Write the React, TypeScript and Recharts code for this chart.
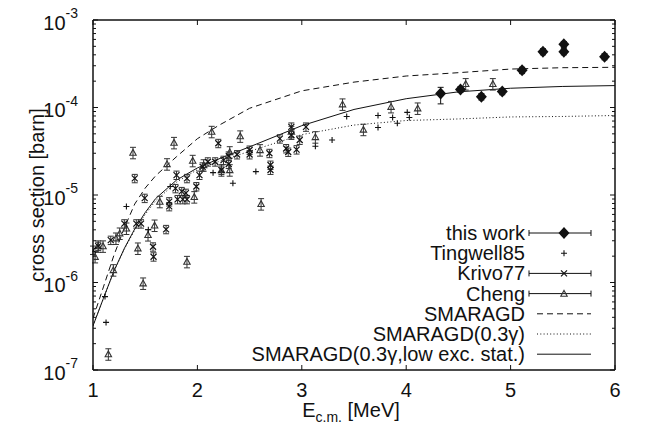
import { ComposedChart, Line, Scatter, XAxis, YAxis, ErrorBar, Legend, Label } from 'recharts'

const FONT = '"Liberation Sans", Arial, Helvetica, sans-serif'
const INK = '#111'

// this work (E in MeV, cross section in barn, asymmetric errors)
const THIS_WORK_E = [4.33, 4.52, 4.72, 4.92, 5.11, 5.31, 5.51, 5.51, 5.9]
const THIS_WORK_S = [1.45e-4, 1.61e-4, 1.33e-4, 1.52e-4, 2.66e-4, 4.35e-4, 5.27e-4, 4.35e-4, 3.81e-4]
const THIS_WORK_LO = [3.5e-5, 1.2e-5, 1.1e-5, 1.2e-5, 2.2e-5, 3.5e-5, 4e-5, 3.5e-5, 3e-5]
const THIS_WORK_HI = [2.5e-5, 1.2e-5, 1.1e-5, 1.2e-5, 2.2e-5, 3.5e-5, 4e-5, 3.5e-5, 3e-5]

const TINGWELL_E = [1.115, 1.125, 1.32, 1.53, 1.74, 2.15, 2.34, 2.56, 3.13, 3.29, 3.43, 3.73, 3.73, 3.87, 3.915, 4.01, 4.03]
const TINGWELL_S = [6.9e-7, 3.5e-7, 7.4e-6, 4.0e-6, 1.25e-5, 1.8e-5, 1.36e-5, 1.85e-5, 3.6e-5, 4.25e-5, 7.9e-5, 8.1e-5, 5.9e-5, 7.7e-5, 6.6e-5, 8.8e-5, 7.7e-5]

const KRIVO_E = [1.0, 1.05, 1.17, 1.3, 1.4, 1.415, 1.46, 1.495, 1.575, 1.58, 1.7, 1.73, 1.73, 1.79, 1.8, 1.81, 1.85, 1.86, 1.89, 1.9, 1.9, 1.99, 2.02, 2.05, 2.1, 2.17, 2.2, 2.23, 2.25, 2.3, 2.3, 2.38, 2.5, 2.5, 2.69, 2.7, 2.7, 2.79, 2.85, 2.87, 2.9, 2.9, 2.95, 2.98, 3.04]
const KRIVO_S = [2.35e-6, 2.6e-6, 3.05e-6, 4.7e-6, 1.55e-5, 4.7e-6, 4.7e-6, 9.2e-6, 2.56e-6, 1.97e-6, 4.05e-6, 8.4e-6, 7.4e-6, 1.19e-5, 1.69e-5, 8.9e-6, 1.1e-5, 8.9e-6, 1.05e-5, 1.55e-5, 8.9e-6, 1.25e-5, 1.69e-5, 2.1e-5, 2.4e-5, 2.4e-5, 3.9e-5, 1.93e-5, 2.5e-5, 2.26e-5, 2.8e-5, 2.9e-5, 3.27e-5, 2.9e-5, 3.0e-5, 2.2e-5, 1.93e-5, 4.4e-5, 3.4e-5, 3.1e-5, 6.0e-5, 4.85e-5, 3.3e-5, 4.25e-5, 6.0e-5]
const KRIVO_REL_ERR = 0.11

const CHENG_E = [1.02, 1.05, 1.096, 1.147, 1.195, 1.22, 1.256, 1.32, 1.383, 1.43, 1.48, 1.527, 1.59, 1.64, 1.709, 1.776, 1.9, 1.955, 1.97, 2.06, 2.137, 2.23, 2.31, 2.31, 2.41, 2.6, 2.61, 2.9, 3.13, 3.39, 3.59, 3.855, 4.11, 4.57, 4.83]
const CHENG_S = [1.97e-6, 2.6e-6, 2.6e-6, 1.52e-7, 1.39e-6, 3.2e-6, 3.65e-6, 4.16e-6, 3.05e-5, 2.46e-6, 9.8e-7, 3.5e-6, 4.5e-6, 8.4e-6, 2.26e-5, 3.96e-5, 1.73e-6, 2.47e-5, 9.5e-6, 2.2e-5, 5.3e-5, 1.93e-5, 3.1e-5, 1.93e-5, 4.7e-5, 3.27e-5, 7.9e-6, 5.3e-5, 4.6e-5, 1.09e-4, 5.6e-5, 1.02e-4, 9.8e-5, 1.86e-4, 1.86e-4]
const CHENG_REL_ERR = 0.15

// SMARAGD model curves
const CURVE_E = [1.0, 1.1, 1.2, 1.3, 1.4, 1.5, 1.6, 1.8, 2.0, 2.2, 2.5, 3.0, 3.5, 4.0, 4.5, 5.0, 5.5, 6.0]
const SMARAGD = [3.9e-7, 8.9e-7, 2.04e-6, 4.2e-6, 7.9e-6, 1.2e-5, 1.66e-5, 2.74e-5, 4.4e-5, 6.2e-5, 9.8e-5, 1.55e-4, 1.95e-4, 2.29e-4, 2.5e-4, 2.75e-4, 2.85e-4, 2.88e-4]
const SMARAGD_03G = [3.2e-7, 6.6e-7, 1.33e-6, 2.4e-6, 4.0e-6, 6.0e-6, 8.6e-6, 1.4e-5, 1.95e-5, 2.4e-5, 3.16e-5, 4.9e-5, 6.3e-5, 7.1e-5, 7.4e-5, 7.8e-5, 7.9e-5, 8.1e-5]
const SMARAGD_LOW = [3.2e-7, 6.6e-7, 1.35e-6, 2.45e-6, 4.1e-6, 6.3e-6, 9.1e-6, 1.48e-5, 2.04e-5, 2.57e-5, 3.55e-5, 6.2e-5, 9.5e-5, 1.26e-4, 1.51e-4, 1.66e-4, 1.74e-4, 1.78e-4]

const X_TICKS = [1, 2, 3, 4, 5, 6]
const DECADES = [1e-7, 1e-6, 1e-5, 1e-4, 1e-3]
const MANTISSAS = [1, 2, 3, 4, 5, 6, 7, 8, 9]
const Y_TICKS = DECADES.flatMap((d, i) => (i === DECADES.length - 1 ? [d] : MANTISSAS.map((m) => +(m * d).toPrecision(2))))

const LEGEND_LABELS = ['this work', 'Tingwell85', 'Krivo77', 'Cheng', 'SMARAGD', 'SMARAGD(0.3γ)', 'SMARAGD(0.3γ,low exc. stat.)']

const thisWork = THIS_WORK_E.map((x, i) => ({ x, y: THIS_WORK_S[i], err: [THIS_WORK_LO[i], THIS_WORK_HI[i]] }))
const tingwell = TINGWELL_E.map((x, i) => ({ x, y: TINGWELL_S[i] }))
const krivo = KRIVO_E.map((x, i) => ({ x, y: KRIVO_S[i], err: KRIVO_S[i] * KRIVO_REL_ERR }))
const cheng = CHENG_E.map((x, i) => ({ x, y: CHENG_S[i], err: CHENG_S[i] * CHENG_REL_ERR }))
const curve = (vals: number[]) => CURVE_E.map((x, i) => ({ x, y: vals[i] }))

const Diamond = ({ cx, cy }: any) => (
  <polygon points={`${cx - 5.5},${cy} ${cx},${cy - 6} ${cx + 5.5},${cy} ${cx},${cy + 6}`} fill={INK} />
)
const Plus = ({ cx, cy }: any) => (
  <path d={`M${cx - 3},${cy}H${cx + 3}M${cx},${cy - 3}V${cy + 3}`} stroke={INK} strokeWidth={1.1} />
)
const Cross = ({ cx, cy }: any) => (
  <path d={`M${cx - 3},${cy - 3}L${cx + 3},${cy + 3}M${cx - 3},${cy + 3}L${cx + 3},${cy - 3}`} stroke={INK} strokeWidth={1.2} />
)
const Triangle = ({ cx, cy }: any) => (
  <polygon points={`${cx - 3.2},${cy + 2.6} ${cx + 3.2},${cy + 2.6} ${cx},${cy - 3.2}`} fill="none" stroke="#333" strokeWidth={1.1} />
)

function YTick({ x, y, payload, side }: any) {
  const v = payload.value
  const exp = Math.round(Math.log10(v))
  const major = Math.abs(v / Math.pow(10, exp) - 1) < 1e-6
  const len = major ? 5 : 3
  const dir = side === 'left' ? 1 : -1
  return (
    <g>
      <line x1={x} x2={x + dir * len} y1={y} y2={y} stroke={INK} strokeWidth={1} />
      {side === 'left' && major && (
        <text x={x - 15} y={y + 9.5} textAnchor="end" fontSize={20} fontFamily={FONT} fill={INK}>
          10<tspan dy={-11.5} fontSize={14}>{exp}</tspan>
        </text>
      )}
    </g>
  )
}

function XTick({ x, y, payload, side }: any) {
  const dir = side === 'bottom' ? -1 : 1
  return (
    <g>
      <line x1={x} x2={x} y1={y} y2={y + dir * 5} stroke={INK} strokeWidth={1} />
      {side === 'bottom' && (
        <text x={x} y={y + 27} textAnchor="middle" fontSize={20} fontFamily={FONT} fill={INK}>
          {payload.value}
        </text>
      )}
    </g>
  )
}

function LegendBox() {
  const tx = 325
  const s0 = 337
  const s1 = 391
  const mid = (s0 + s1) / 2
  const rowY = (i: number) => 13 + i * 20.2
  const bar = (y: number) => (
    <path d={`M${s0 - 8},${y}H${s1}M${s0 - 8},${y - 3}V${y + 3}M${s1},${y - 3}V${y + 3}`} stroke={INK} strokeWidth={1} />
  )
  return (
    <svg width={420} height={150} style={{ overflow: 'visible' }}>
      {LEGEND_LABELS.map((t, i) => (
        <text key={t} x={tx} y={rowY(i) + 7} textAnchor="end" fontSize={20} fontFamily={FONT} fill={INK}>
          {t}
        </text>
      ))}
      {bar(rowY(0))}
      <Diamond cx={mid} cy={rowY(0)} />
      <Plus cx={mid} cy={rowY(1)} />
      {bar(rowY(2))}
      <Cross cx={mid} cy={rowY(2)} />
      {bar(rowY(3))}
      <Triangle cx={mid} cy={rowY(3)} />
      <line x1={s0} x2={s1} y1={rowY(4)} y2={rowY(4)} stroke={INK} strokeDasharray="6 4" />
      <line x1={s0} x2={s1} y1={rowY(5)} y2={rowY(5)} stroke={INK} strokeDasharray="1 2.3" />
      <line x1={s0} x2={s1} y1={rowY(6)} y2={rowY(6)} stroke={INK} />
    </svg>
  )
}

const axisLine = { stroke: INK, strokeWidth: 1.5 }

export default function App() {
  return (
    <div style={{ position: 'absolute', left: 0, top: 0, width: 647, height: 429, background: '#fff' }}>
      <ComposedChart width={647} height={429} margin={{ top: 0, right: 0, bottom: 0, left: 0 }}>
        <XAxis
          dataKey="x"
          type="number"
          domain={[1, 6]}
          ticks={X_TICKS}
          interval={0}
          height={59}
          tickSize={0}
          tickMargin={0}
          tickLine={false}
          axisLine={axisLine}
          allowDataOverflow
          tick={<XTick side="bottom" />}
        >
          <Label
            content={({ viewBox }: any) => (
              <text x={viewBox.x + viewBox.width / 2 - 3} y={viewBox.y + 47} textAnchor="middle" fontSize={20} fontFamily={FONT} fill={INK}>
                E<tspan dy={5} fontSize={14}>c.m.</tspan>
                <tspan dy={-5}> [MeV]</tspan>
              </text>
            )}
          />
        </XAxis>
        <XAxis
          xAxisId="top"
          orientation="top"
          dataKey="x"
          type="number"
          domain={[1, 6]}
          ticks={X_TICKS}
          interval={0}
          height={20}
          tickSize={0}
          tickMargin={0}
          tickLine={false}
          axisLine={axisLine}
          allowDataOverflow
          tick={<XTick side="top" />}
        />
        <YAxis
          scale="log"
          type="number"
          domain={[1e-7, 1e-3]}
          ticks={Y_TICKS}
          interval={0}
          width={93}
          tickSize={0}
          tickMargin={0}
          tickLine={false}
          axisLine={axisLine}
          allowDataOverflow
          tick={<YTick side="left" />}
        >
          <Label
            content={({ viewBox }: any) => (
              <text
                x={37}
                y={viewBox.y + viewBox.height / 2}
                transform={`rotate(-90 37 ${viewBox.y + viewBox.height / 2})`}
                textAnchor="middle"
                dominantBaseline="central"
                fontSize={20}
                fontFamily={FONT}
                fill={INK}
              >
                cross section [barn]
              </text>
            )}
          />
        </YAxis>
        <YAxis
          yAxisId="right"
          orientation="right"
          scale="log"
          type="number"
          domain={[1e-7, 1e-3]}
          ticks={Y_TICKS}
          interval={0}
          width={32}
          tickSize={0}
          tickMargin={0}
          tickLine={false}
          axisLine={axisLine}
          allowDataOverflow
          tick={<YTick side="right" />}
        />
        <Legend
          layout="horizontal"
          align="center"
          verticalAlign="middle"
          wrapperStyle={{ left: 200, top: 220, width: 420, height: 150 }}
          content={() => <LegendBox />}
        />
        <Line data={curve(SMARAGD)} dataKey="y" stroke={INK} strokeWidth={1} strokeDasharray="6 4" dot={false} isAnimationActive={false} />
        <Line data={curve(SMARAGD_03G)} dataKey="y" stroke={INK} strokeWidth={1} strokeDasharray="1 2.3" dot={false} isAnimationActive={false} />
        <Line data={curve(SMARAGD_LOW)} dataKey="y" stroke={INK} strokeWidth={1} dot={false} isAnimationActive={false} />
        <Scatter data={cheng} dataKey="y" shape={<Triangle />} isAnimationActive={false}>
          <ErrorBar dataKey="err" direction="y" width={3} stroke="#333" strokeWidth={1} />
        </Scatter>
        <Scatter data={krivo} dataKey="y" shape={<Cross />} isAnimationActive={false}>
          <ErrorBar dataKey="err" direction="y" width={3} stroke="#333" strokeWidth={1} />
        </Scatter>
        <Scatter data={tingwell} dataKey="y" shape={<Plus />} isAnimationActive={false} />
        <Scatter data={thisWork} dataKey="y" shape={<Diamond />} isAnimationActive={false}>
          <ErrorBar dataKey="err" direction="y" width={3} stroke={INK} strokeWidth={1} />
        </Scatter>
      </ComposedChart>
    </div>
  )
}
